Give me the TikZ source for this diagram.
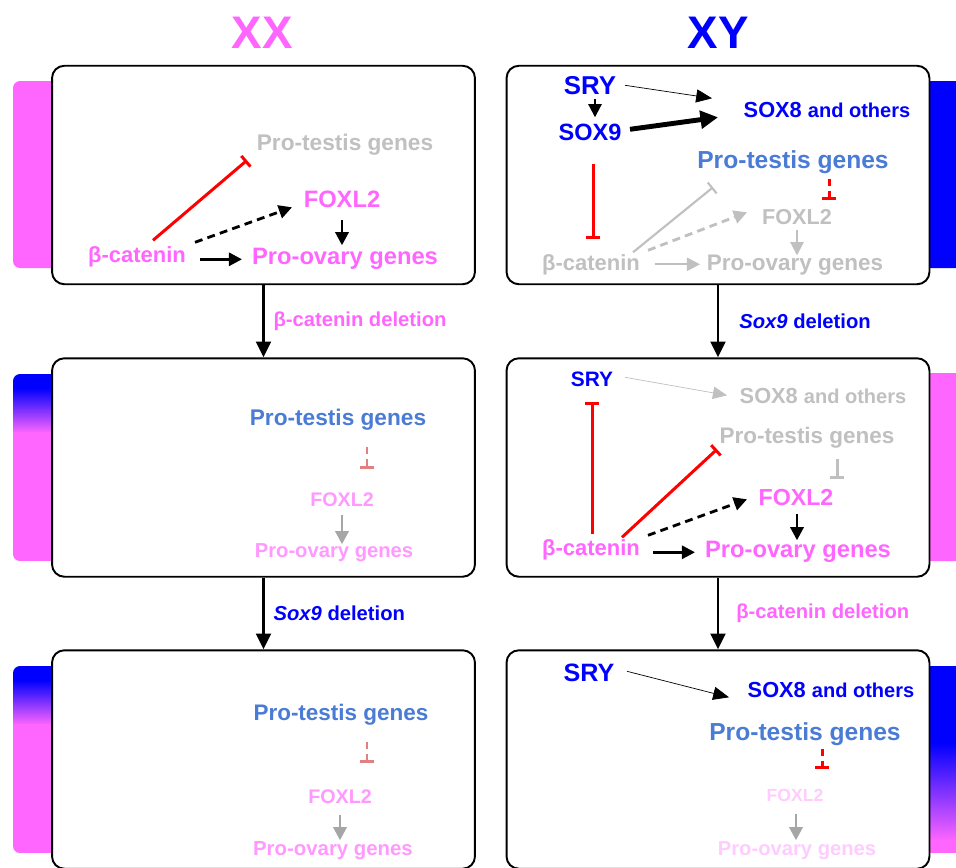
\documentclass[tikz,border=0pt]{standalone}
\usepackage{fontspec}
\setmainfont{Liberation Sans}
\usepackage{xcolor}
\usetikzlibrary{arrows.meta,calc,positioning}

\definecolor{girl}{HTML}{FF66FF}
\definecolor{boy}{HTML}{0000FF}
\definecolor{testis}{HTML}{4A7BD5}
\definecolor{offgene}{HTML}{C0C0C0}
\definecolor{fadepink}{HTML}{FF99FF}
\definecolor{palepink}{HTML}{FFCCFF}
\definecolor{palered}{HTML}{E08080}
\definecolor{midgrey}{HTML}{A6A6A6}

\newcommand{\fsz}[1]{\fontsize{#1}{#1}\selectfont}

\begin{document}
\begin{tikzpicture}[x=0.02cm, y=-0.02cm, semithick]

    \tikzstyle{panel}=[draw=black, line width=1.1pt, rounded corners=7pt, fill=white, inner sep=0pt, minimum width=8.46cm, minimum height=4.37cm]
    \tikzstyle{gene}=[inner sep=2pt, yshift=-1.3pt, font=\bfseries\fsz{#1}]
    \tikzstyle{act}=[-{Triangle[length=7.5pt,width=7.5pt]}, line width=1.6pt, draw=black]
    \tikzstyle{bigact}=[-{Triangle[length=10pt,width=10pt]}, line width=2.8pt, draw=black]
    \tikzstyle{thinact}=[-{Triangle[length=9pt,width=7.5pt]}, line width=0.4pt, draw=black]
    \tikzstyle{inh}=[-{Bar[width=8pt]}, line width=1.7pt, draw=red]
    \tikzstyle{broken}=[dash pattern=on 4.5pt off 3pt]
    \tikzstyle{delarrow}=[-{Triangle[length=9pt,width=8.5pt]}, line width=1.5pt, draw=black]
    \tikzstyle{dellabel}=[inner sep=2pt, font=\bfseries\fsz{11.5}]

    \clip (0,0) rectangle (956,867);

    % side bars
    \fill[girl, rounded corners=4pt] (13,81) rectangle (60,268);
    \begin{scope}
        \clip[rounded corners=4pt] (13,374) rectangle (60,561);
        \fill[boy] (13,374) rectangle (60,389);
        \shade[top color=boy, bottom color=girl] (13,388) rectangle (60,433);
        \fill[girl] (13,432) rectangle (60,561);
    \end{scope}
    \begin{scope}
        \clip[rounded corners=4pt] (13,666) rectangle (60,853);
        \fill[boy] (13,666) rectangle (60,681);
        \shade[top color=boy, bottom color=girl] (13,680) rectangle (60,725);
        \fill[girl] (13,724) rectangle (60,853);
    \end{scope}
    \fill[boy, rounded corners=4pt] (922,81) rectangle (975,268);
    \fill[girl, rounded corners=4pt] (922,373) rectangle (975,561);
    \begin{scope}
        \clip[rounded corners=4pt] (922,666) rectangle (975,853);
        \fill[boy] (922,666) rectangle (975,744);
        \shade[top color=boy, bottom color=girl] (922,743) rectangle (975,841);
        \fill[girl] (922,840) rectangle (975,853);
    \end{scope}

    % panels
    \node[panel] (boxL1) at (263.5,175)   {};
    \node[panel] (boxR1) at (718,175)     {};
    \node[panel] (boxL2) at (263.5,467.5) {};
    \node[panel] (boxR2) at (718,467.5)   {};
    \node[panel] (boxL3) at (263.5,759.5) {};
    \node[panel] (boxR3) at (718,759.5)   {};

    \node[font=\bfseries\fsz{26}, text=girl] (xx) at (262,33) {XX};
    \node[font=\bfseries\fsz{26}, text=boy]  (xy) at (718,33) {XY};

    \path (boxL1) edge[delarrow] node[dellabel, right, xshift=3pt, text=girl] {β-catenin deletion} (boxL2)
          (boxL2) edge[delarrow] node[dellabel, right, xshift=3pt, text=boy] {\textit{Sox9} deletion} (boxL3)
          (boxR1) edge[delarrow] node[dellabel, right, xshift=9.4pt, text=boy] {\textit{Sox9} deletion} (boxR2)
          (boxR2) edge[delarrow] node[dellabel, right, xshift=7.7pt, text=girl] {β-catenin deletion} (boxR3);

    % XX, wild type
    \node[gene=12.9, text=offgene] (L1pt) at (345,142) {Pro-testis genes};
    \node[gene=13.5, text=girl]    (L1fx) at (342,197) {FOXL2};
    \node[gene=12.5, text=girl]    (L1bc) at (137,255) {β-catenin};
    \node[gene=13.5, text=girl]    (L1po) at (345,257) {Pro-ovary genes};

    \path ($(L1bc)+(16,-17)$) edge[inh]          ($(L1pt)+(-98,16)$)
          ($(L1bc)+(58,-15)$) edge[act, broken]  ($(L1fx)+(-50,8)$)
          ($(L1bc)+(63,2)$)   edge[act]          ($(L1po)+(-103,0)$)
          ($(L1fx)+(0,21)$)   edge[act]          ($(L1po)+(-3,-14)$);

    % XY, wild type
    \node[gene=14.7, text=boy]     (R1sry)  at (590,83)  {SRY};
    \node[gene=13.4, text=boy]     (R1sox9) at (590,130) {SOX9};
    \node[gene=12.4, text=boy]     (R1sox8) at (827,108) {SOX8 {\fsz{11.4}and others}};
    \node[gene=14,   text=testis]  (R1pt)   at (793,160) {Pro-testis genes};
    \node[gene=12.3, text=offgene] (R1fx)   at (797,215) {FOXL2};
    \node[gene=12.5, text=offgene] (R1bc)   at (591,263) {β-catenin};
    \node[gene=12.8, text=offgene] (R1po)   at (795,263) {Pro-ovary genes};

    \path ($(R1sry)+(5,14)$)   edge[act, line width=1.2pt]           ($(R1sox9)+(5,-15)$)
          ($(R1sry)+(35,0)$)   edge[thinact]                         ($(R1sox8)+(-115,-12)$)
          ($(R1sox9)+(40,-3)$) edge[bigact]                          ($(R1sox8)+(-109,7)$)
          ($(R1sox9)+(3,32)$)  edge[inh]                             ($(R1bc)+(2,-26)$)
          ($(R1pt)+(36,17)$)   edge[inh, dash pattern=on 4pt off 2.5pt] ($(R1fx)+(32,-17)$)
          ($(R1bc)+(57,-15)$)  edge[act, broken, draw=offgene]       ($(R1fx)+(-50,-5)$)
          ($(R1bc)+(42,-13)$)  edge[inh, draw=offgene, line width=1.2pt] ($(R1pt)+(-80,25)$)
          ($(R1bc)+(64,-1)$)   edge[act, draw=offgene, line width=1.2pt] ($(R1po)+(-95,-1)$)
          ($(R1fx)+(0,13)$)    edge[act, draw=offgene, line width=1.2pt] ($(R1po)+(2,-10)$);

    % XX, beta-catenin deleted
    \node[gene=12.9, text=testis]   (L2pt) at (338,417) {Pro-testis genes};
    \node[gene=11.2, text=fadepink] (L2fx) at (342,497) {FOXL2};
    \node[gene=11.5, text=fadepink] (L2po) at (334,550) {Pro-ovary genes};

    \path ($(L2pt)+(29,28)$) edge[inh, draw=palered, dash pattern=on 4pt off 2.5pt] ($(L2fx)+(25,-30)$)
          ($(L2fx)+(0,16)$)  edge[act, draw=midgrey]                                ($(L2po)+(8,-8)$);

    % XY, Sox9 deleted
    \node[gene=11.9, text=boy]     (R2sry)  at (592,377) {SRY};
    \node[gene=12.4, text=offgene] (R2sox8) at (823,394) {SOX8 {\fsz{11.4}and others}};
    \node[gene=12.8, text=offgene] (R2pt)   at (807,435) {Pro-testis genes};
    \node[gene=13.2, text=girl]    (R2fx)   at (796,495) {FOXL2};
    \node[gene=12.5, text=girl]    (R2bc)   at (591,548) {β-catenin};
    \node[gene=13.5, text=girl]    (R2po)   at (798,550) {Pro-ovary genes};

    \path ($(R2sry)+(33,-2)$) edge[thinact, draw=offgene, -{Triangle[length=8pt,width=7pt,fill=offgene]}] ($(R2sox8)+(-96,-1)$)
          ($(R2pt)+(30,22)$)  edge[inh, draw=offgene]   ($(R2fx)+(41,-18)$)
          ($(R2fx)+(1,17)$)   edge[act]                 ($(R2po)+(-1,-12)$)
          ($(R2bc)+(62,2)$)   edge[act]                 ($(R2po)+(-103,0)$)
          ($(R2bc)+(57,-15)$) edge[act, broken]         ($(R2fx)+(-49,2)$)
          ($(R2bc)+(31,-13)$) edge[inh]                 ($(R2pt)+(-90,12)$)
          ($(R2bc)+(1,-16)$)  edge[inh]                 ($(R2sry)+(0,23)$);

    % XX, double deletion
    \node[gene=12.8, text=testis]   (L3pt) at (341,712) {Pro-testis genes};
    \node[gene=11.2, text=fadepink] (L3fx) at (340,794) {FOXL2};
    \node[gene=11.6, text=fadepink] (L3po) at (333,848) {Pro-ovary genes};

    \path ($(L3pt)+(26,28)$) edge[inh, draw=palered, dash pattern=on 4pt off 2.5pt] ($(L3fx)+(27,-33)$)
          ($(L3fx)+(0,19)$)  edge[act, draw=midgrey]                                ($(L3po)+(7,-10)$);

    % XY, double deletion
    \node[gene=14.3, text=boy]      (R3sry)  at (589,671) {SRY};
    \node[gene=12.4, text=boy]      (R3sox8) at (831,688) {SOX8 {\fsz{11.4}and others}};
    \node[gene=14,   text=testis]   (R3pt)   at (805,732) {Pro-testis genes};
    \node[gene=10,   text=palepink] (R3fx)   at (795,793) {FOXL2};
    \node[gene=11.5, text=palepink] (R3po)   at (797,848) {Pro-ovary genes};

    \path ($(R3sry)+(38,-2)$) edge[thinact]                                  ($(R3sox8)+(-102,7)$)
          ($(R3pt)+(17,15)$)  edge[inh, dash pattern=on 4pt off 2.5pt]       ($(R3fx)+(27,-26)$)
          ($(R3fx)+(1,19)$)   edge[act, draw=midgrey]                        ($(R3po)+(-1,-10)$);
\end{tikzpicture}
\end{document}
